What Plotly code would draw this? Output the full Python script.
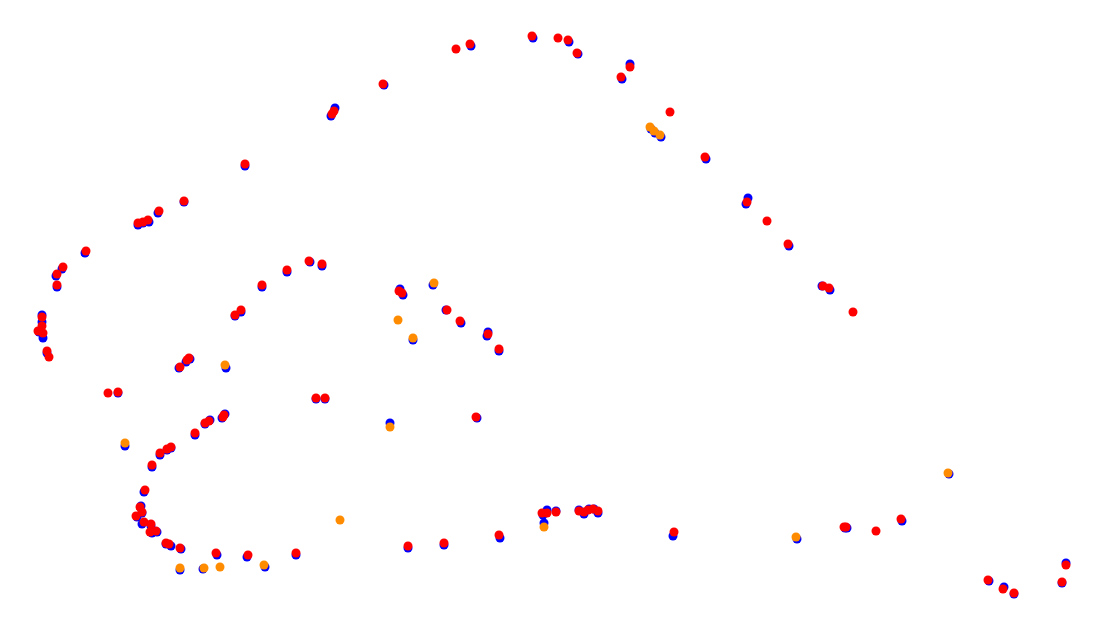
import plotly.graph_objects as go

# Blue series (drawn first, underneath)
blue_x = [471, 533, 569, 578, 622, 630, 706, 748, 746, 789, 822, 830,
          384, 335, 331, 245, 184, 158, 149, 143, 138, 85, 62, 56, 57,
          42, 42, 39, 43, 47, 310, 322, 287, 262, 241, 235, 190, 186, 179,
          316, 325, 225, 222, 210, 205, 195, 171, 167, 160, 152, 118,
          400, 403, 446, 461, 488, 487, 499, 477, 408, 444, 500, 543, 547,
          556, 579, 584, 589, 594, 598, 144, 141, 142, 137, 142, 151, 152,
          157, 166, 171, 181, 217, 247, 296, 673, 845, 847, 902, 989, 1004,
          1014, 1062, 1066,
          651, 655, 661, 433, 413, 226, 125, 390, 544, 180, 203, 265, 797, 949]
blue_y = [46, 38, 42, 54, 79, 64, 159, 198, 204, 246, 286, 290,
          85, 108, 116, 166, 202, 213, 222, 223, 225, 253, 269, 276, 287,
          315, 322, 332, 338, 353, 262, 266, 272, 287, 312, 316, 359, 362, 368,
          399, 399, 414, 418, 420, 424, 435, 448, 450, 455, 467, 393,
          289, 295, 310, 323, 332, 336, 351, 418, 548, 545, 538, 515, 510,
          511, 510, 514, 509, 509, 513, 492, 506, 513, 517, 524, 526, 533,
          532, 544, 546, 549, 555, 557, 555, 536, 528, 528, 521, 581, 587,
          594, 583, 563,
          129, 133, 137, 285, 340, 368, 446, 423, 523, 570, 569, 567, 539, 474]

# Orange series
orange_x = [650, 654, 660, 434, 398, 413, 225, 125, 390, 340, 544, 180, 204, 220, 264, 796, 948]
orange_y = [127, 131, 135, 283, 320, 338, 365, 443, 427, 520, 527, 568, 568, 567, 565, 537, 473]

# Red series (drawn on top)
red_x = [456, 470, 532, 558, 568, 577, 621, 630, 670, 705, 747, 767, 788, 823, 829, 853,
         383, 334, 332, 245, 184, 159, 148, 143, 138, 86, 63, 57, 57, 42, 42, 38, 43, 47, 49,
         309, 322, 287, 262, 241, 235, 189, 187, 180, 316, 325, 224, 223, 209, 205, 195,
         171, 167, 160, 152, 108, 118, 399, 402, 447, 460, 488, 499, 476,
         408, 444, 499, 542, 547, 556, 579, 584, 588, 593, 598,
         145, 140, 142, 136, 144, 151, 150, 156, 166, 169, 180, 216, 248, 296,
         674, 844, 846, 876, 901, 988, 1003, 1014, 1062, 1066]
red_y = [49, 44, 36, 38, 40, 53, 77, 67, 112, 157, 202, 221, 244, 286, 288, 312,
         84, 111, 114, 164, 201, 211, 220, 222, 223, 251, 267, 274, 285, 317, 326, 331, 333, 351, 357,
         261, 264, 270, 285, 310, 315, 358, 360, 367, 398, 398, 415, 417, 421, 423, 433,
         447, 449, 453, 465, 393, 392, 291, 293, 310, 321, 334, 349, 417,
         546, 543, 535, 513, 513, 512, 511, 512, 510, 509, 511,
         490, 507, 512, 516, 522, 524, 532, 531, 543, 544, 548, 553, 555, 553,
         532, 527, 527, 531, 519, 580, 589, 593, 582, 565]

fig = go.Figure()
fig.add_trace(go.Scatter(x=blue_x, y=blue_y, mode="markers",
                         marker=dict(color="#0000ff", size=9, line=dict(width=0)),
                         name="blue"))
fig.add_trace(go.Scatter(x=orange_x, y=orange_y, mode="markers",
                         marker=dict(color="#ff8c00", size=9, line=dict(width=0)),
                         name="orange"))
fig.add_trace(go.Scatter(x=red_x, y=red_y, mode="markers",
                         marker=dict(color="#ff0000", size=9, line=dict(width=0)),
                         name="red"))

fig.update_layout(
    width=1107, height=635,
    margin=dict(l=0, r=0, t=0, b=0),
    paper_bgcolor="white", plot_bgcolor="white",
    showlegend=False,
    xaxis=dict(range=[8, 1115], visible=False, fixedrange=True),
    yaxis=dict(range=[643, 8], visible=False, fixedrange=True),
)
fig.write_html("out.html")
